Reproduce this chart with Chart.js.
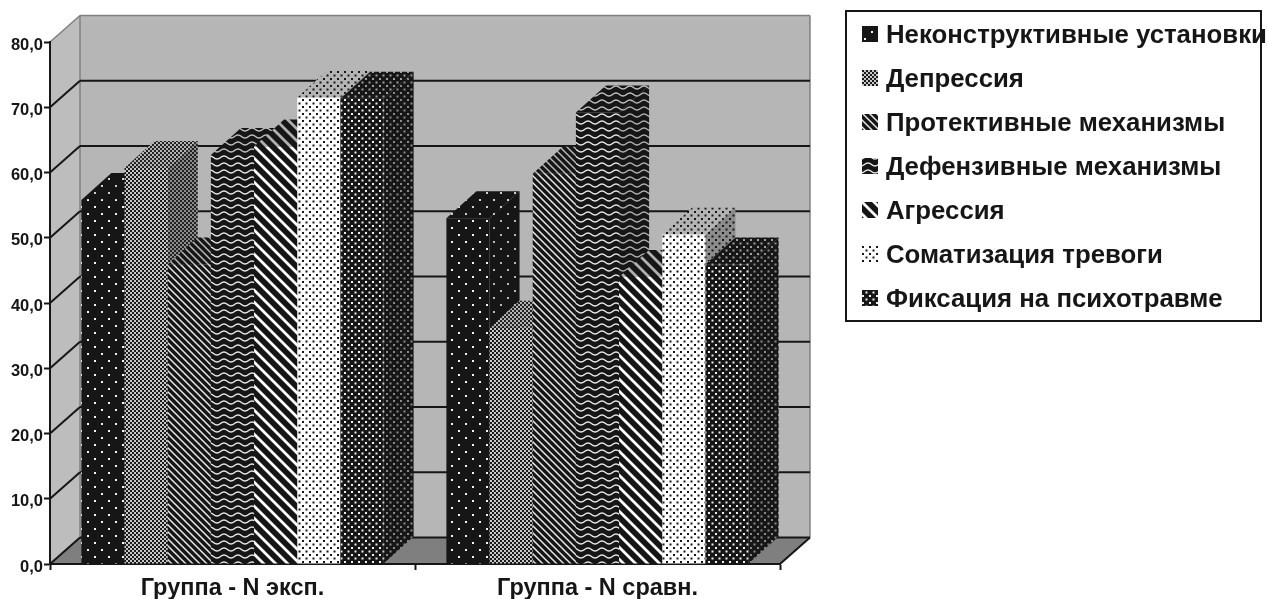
<!DOCTYPE html>
<html>
<head>
<meta charset="utf-8">
<style>
html, body { margin: 0; background: #fff; }
canvas { display: block; }
</style>
<script src="https://cdn.jsdelivr.net/npm/chart.js@4"></script>
</head>
<body>
<canvas id="chart" width="1267" height="599"></canvas>
<script>
const categories = ["Группа - N эксп.", "Группа - N сравн."];
const seriesNames = ["Неконструктивные установки", "Депрессия", "Протективные механизмы", "Дефензивные механизмы", "Агрессия", "Соматизация тревоги", "Фиксация на психотравме"];
const neconstructive = [55.8, 53.0];
const depression = [60.7, 36.2];
const protective = [45.9, 59.8];
const defensive = [62.7, 69.2];
const aggression = [64.0, 44.0];
const somatization = [71.5, 50.5];
const fixation = [71.3, 45.9];
const seriesValues = [neconstructive, depression, protective, defensive, aggression, somatization, fixation];
const yTicks = [0, 10, 20, 30, 40, 50, 60, 70, 80];

// 3D depth of the box and of the bars
const WALL_DX = 30, WALL_DY = 26.5;
const BAR_DX = 30, BAR_DY = 27;

const INK = "#161616";

// Tile painters for the print-style fills
const tiles = {
    sparseDots: { w: 14, h: 14, draw: (c, fg) => { c.fillStyle = fg; c.fillRect(3, 3, 2, 2); c.fillRect(10, 10, 2, 2); } },
    checker: { w: 4, h: 4, draw: (c, fg) => { c.fillStyle = fg; c.fillRect(0, 0, 2, 2); c.fillRect(2, 2, 2, 2); } },
    thinDiag: { w: 7, h: 7, draw: (c, fg) => { diag(c, fg, 7, 1.5); } },
    wave: { w: 14, h: 7, draw: (c, fg) => {
        c.strokeStyle = fg; c.lineWidth = 1.5;
        c.beginPath(); c.moveTo(0, 2); c.bezierCurveTo(3.5, 2, 3.5, 5, 7, 5); c.bezierCurveTo(10.5, 5, 10.5, 2, 14, 2); c.stroke();
    } },
    wideDiag: { w: 12, h: 12, draw: (c, fg) => { diag(c, fg, 12, 2.8); } },
    denseDots: { w: 7, h: 7, draw: (c, fg) => { c.fillStyle = fg; c.fillRect(1, 1, 2, 2); c.fillRect(4.5, 4.5, 2, 2); } }
};

function diag(c, fg, n, lw) {
    c.strokeStyle = fg; c.lineWidth = lw;
    c.beginPath();
    for (let k = -n; k <= n; k += n) { c.moveTo(k - 1, -1); c.lineTo(k + n + 1, n + 1); }
    c.stroke();
}

function makePattern(kind, bg, fg) {
    const t = tiles[kind];
    const tile = document.createElement("canvas");
    tile.width = t.w; tile.height = t.h;
    const c = tile.getContext("2d");
    c.fillStyle = bg; c.fillRect(0, 0, t.w, t.h);
    t.draw(c, fg);
    return c.createPattern(tile, "repeat");
}

const ctx = document.getElementById("chart").getContext("2d");

// front / top / side look of each series
const looks = [
    { kind: "sparseDots", front: [INK, "#f4f4f4"], top: [INK, "#d0d0d0"], side: [INK, "#b8b8b8"] },
    { kind: "checker", front: ["#c8c8c8", "#1a1a1a"], top: ["#b4b4b4", "#222"], side: ["#8c8c8c", "#222"] },
    { kind: "thinDiag", front: [INK, "#e8e8e8"], top: [INK, "#b8b8b8"], side: [INK, "#b8b8b8"] },
    { kind: "wave", front: [INK, "#e8e8e8"], top: [INK, "#c0c0c0"], side: [INK, "#b0b0b0"] },
    { kind: "wideDiag", front: [INK, "#ffffff"], top: [INK, "#b0b0b0"], side: [INK, "#a8a8a8"] },
    { kind: "denseDots", front: ["#ffffff", INK], top: ["#b4b4b4", INK], side: ["#8c8c8c", INK] },
    { kind: "denseDots", front: [INK, "#f0f0f0"], top: [INK, "#a0a0a0"], side: [INK, "#8a8a8a"] }
];
looks.forEach(l => {
    l.frontFill = makePattern(l.kind, l.front[0], l.front[1]);
    l.topFill = makePattern(l.kind, l.top[0], l.top[1]);
    l.sideFill = makePattern(l.kind, l.side[0], l.side[1]);
});

function poly(c, pts, fill) {
    c.fillStyle = fill;
    c.beginPath();
    pts.forEach((p, i) => i ? c.lineTo(p[0], p[1]) : c.moveTo(p[0], p[1]));
    c.closePath();
    c.fill();
}

function line(c, x1, y1, x2, y2, color, width) {
    c.strokeStyle = color; c.lineWidth = width;
    c.beginPath(); c.moveTo(x1, y1); c.lineTo(x2, y2); c.stroke();
}

// Legend placement
const LEGEND_X = 862, LEGEND_ROW = 44, LEGEND_FONT = 25.8, LEGEND_PAD = LEGEND_ROW - LEGEND_FONT, SWATCH = 16;

// Walls, floor and grid of the 3D box
const boxPlugin = {
    id: "box",
    beforeDraw(chart) {
        const c = chart.ctx, a = chart.chartArea, y = chart.scales.y;
        const backL = a.left + WALL_DX, backR = a.right + WALL_DX, backT = a.top - WALL_DY, backB = a.bottom - WALL_DY;
        c.save();
        poly(c, [[a.left, a.top], [backL, backT], [backL, backB], [a.left, a.bottom]], "#bdbdbd");
        poly(c, [[backL, backT], [backR, backT], [backR, backB], [backL, backB]], "#b6b6b6");
        poly(c, [[a.left, a.bottom], [backL, backB], [backR, backB], [a.right, a.bottom]], "#7f7f7f");
        line(c, backL, backT, backL, backB, "#808080", 1.5);
        line(c, backR, backT, backR, backB, "#808080", 1.5);
        yTicks.forEach(v => {
            const py = y.getPixelForValue(v);
            const top = v === yTicks[yTicks.length - 1];
            const col = top ? "#808080" : INK, w = top ? 1.5 : 2;
            line(c, a.left, py, backL, py - WALL_DY, col, w);
            line(c, backL, py - WALL_DY, backR, py - WALL_DY, col, w);
        });
        line(c, a.right, a.bottom, backR, backB, INK, 2);
        c.restore();
    },
    // paint left to right, each bar over the sides of the one before it
    beforeDatasetsDraw(chart) {
        const c = chart.ctx;
        chart.data.datasets.forEach((ds, i) => {
            const meta = chart.getDatasetMeta(i), look = looks[i];
            meta.data.forEach(bar => {
                const l = bar.x - bar.width / 2, r = bar.x + bar.width / 2;
                poly(c, [[r, bar.y], [r + BAR_DX, bar.y - BAR_DY], [r + BAR_DX, bar.base - BAR_DY], [r, bar.base]], look.sideFill);
                poly(c, [[l, bar.y], [r, bar.y], [r + BAR_DX, bar.y - BAR_DY], [l + BAR_DX, bar.y - BAR_DY]], look.topFill);
            });
            meta.controller.draw();
        });
        return false;
    },
    afterLayout(chart) {
        // bottom is past the drawn frame, otherwise the last row wraps to a new column
        const lg = chart.legend;
        lg.left = LEGEND_X - LEGEND_PAD; lg.top = 21 - LEGEND_PAD + 2; lg.right = 1267; lg.bottom = 350;
        lg.width = lg.right - lg.left; lg.height = lg.bottom - lg.top;
    },
    afterDraw(chart) {
        const c = chart.ctx;
        c.save();
        c.strokeStyle = INK; c.lineWidth = 2;
        c.strokeRect(846, 11, 415, 310);
        // swatches are wider than the legend's own box so the text can sit close
        looks.forEach((look, i) => {
            c.fillStyle = look.frontFill;
            c.fillRect(LEGEND_X, 26 + i * LEGEND_ROW, SWATCH, SWATCH);
        });
        c.restore();
    }
};

const font = "'Liberation Sans', Arial, sans-serif";

new Chart(ctx, {
    type: "bar",
    data: {
        labels: categories,
        datasets: seriesNames.map((name, i) => ({
            label: name,
            data: seriesValues[i],
            backgroundColor: looks[i].frontFill,
            borderWidth: 0,
            barPercentage: 1,
            categoryPercentage: 0.828
        }))
    },
    options: {
        responsive: false,
        animation: false,
        layout: { padding: { left: 0, top: 42, right: 487, bottom: 0 } },
        scales: {
            x: {
                z: 1,
                afterFit: s => { s.height = 35; },
                grid: { drawOnChartArea: false, tickLength: 6, tickWidth: 2, tickColor: INK },
                border: { color: INK, width: 2 },
                ticks: { color: INK, font: { family: font, size: 23.5, weight: "bold" }, padding: 4, maxRotation: 0 }
            },
            y: {
                z: 1,
                min: 0,
                max: 80,
                afterFit: s => { s.width = 50; },
                grid: { drawOnChartArea: false, tickLength: 6, tickWidth: 2, tickColor: INK },
                border: { color: INK, width: 2 },
                ticks: {
                    stepSize: 10,
                    color: INK,
                    padding: 1,
                    labelOffset: 3,
                    font: { family: font, size: 16.5, weight: "bold" },
                    callback: v => v.toFixed(1).replace(".", ",")
                }
            }
        },
        plugins: {
            tooltip: { enabled: false },
            legend: {
                position: "chartArea",
                align: "start",
                labels: {
                    color: INK,
                    boxWidth: 11,
                    boxHeight: 9,
                    padding: LEGEND_PAD,
                    font: { family: font, size: LEGEND_FONT, weight: "bold" }
                }
            }
        }
    },
    plugins: [boxPlugin]
});
</script>
</body>
</html>
